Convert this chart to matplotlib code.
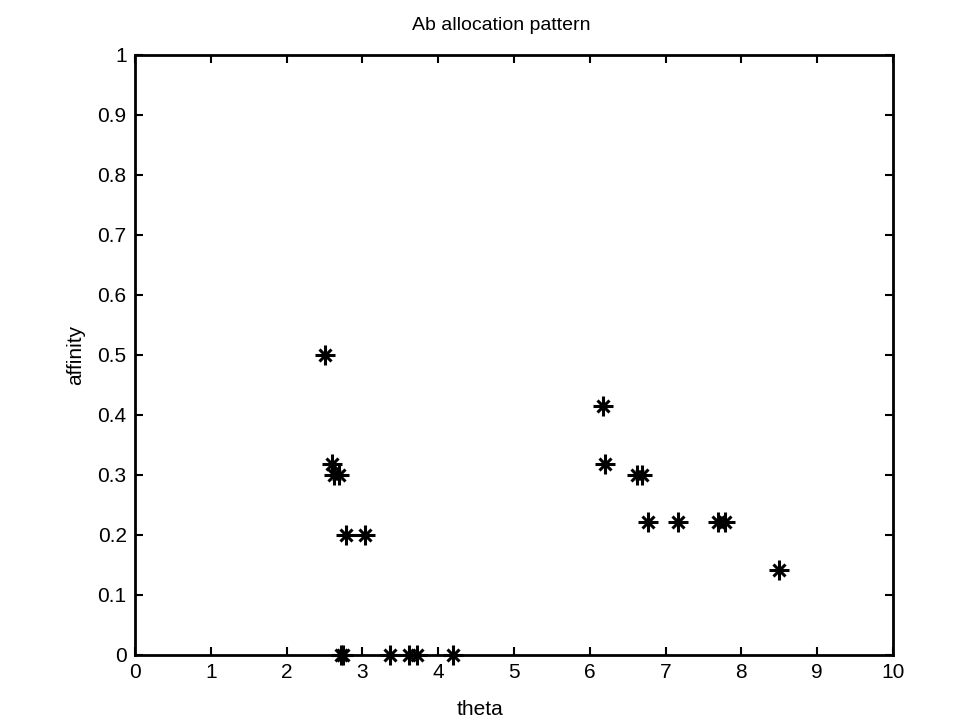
import matplotlib.pyplot as plt

# antibody positions (theta) and their affinity
theta = [2.50, 2.60, 2.62, 2.69, 2.78, 3.04, 2.72, 2.74, 3.37, 3.62, 3.72, 4.20,
         6.17, 6.20, 6.62, 6.69, 6.77, 7.16, 7.69, 7.79, 8.50]
affinity = [0.500, 0.318, 0.300, 0.300, 0.200, 0.200, 0.0, 0.0, 0.0, 0.0, 0.0, 0.0,
            0.415, 0.318, 0.300, 0.300, 0.222, 0.222, 0.222, 0.222, 0.142]

xticks = list(range(0, 11))
yticks = [i / 10 for i in range(0, 11)]
ytick_labels = ['0'] + ['%.1f' % v for v in yticks[1:-1]] + ['1']

plt.rcParams['font.family'] = ['Liberation Sans', 'DejaVu Sans']

fig = plt.figure(figsize=(9.7, 7.23), dpi=100)
ax = fig.add_axes([135 / 970, 68 / 723, 758 / 970, 600 / 723])

# MATLAB-style '*' marker: a plus with a smaller cross on top
ax.plot(theta, affinity, linestyle='none', marker='+', ms=15, mew=2.2, color='k',
        clip_on=False, zorder=5)
ax.plot(theta, affinity, linestyle='none', marker='x', ms=9, mew=2.2, color='k',
        clip_on=False, zorder=5)

ax.set_xlim(0, 10)
ax.set_ylim(0, 1)
ax.set_xticks(xticks)
ax.set_yticks(yticks)
ax.set_yticklabels(ytick_labels)
ax.tick_params(direction='in', length=6, width=1.5, labelsize=15, top=True, right=True,
               pad=6)
for s in ax.spines.values():
    s.set_linewidth(2)

ax.set_title('Ab allocation pattern', fontsize=14, pad=18, x=0.483)
ax.set_xlabel('theta', fontsize=15, labelpad=11)
ax.xaxis.set_label_coords(0.455, -0.075)
ax.set_ylabel('affinity', fontsize=15, labelpad=9)

fig.savefig('out.png', dpi=100)
